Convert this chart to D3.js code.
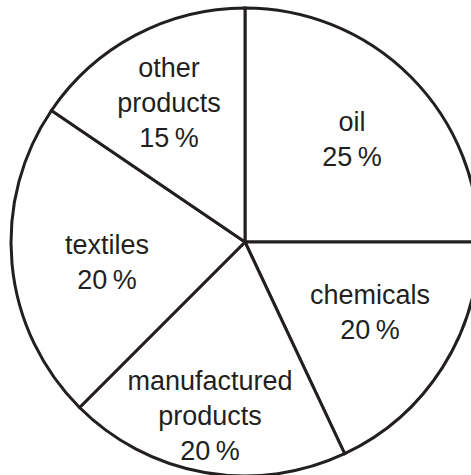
<!DOCTYPE html>
<html>
<head>
<meta charset="utf-8">
<script src="https://cdn.jsdelivr.net/npm/d3@7"></script>
<style>
  html, body { margin: 0; padding: 0; background: #fff; }
  svg { display: block; }
  text { font-family: "Liberation Sans", Arial, Helvetica, sans-serif; fill: #231f20; }
</style>
</head>
<body>
<svg id="chart" width="471" height="475"></svg>
<script>
// ---- data ----
const categories = ["oil", "chemicals", "manufactured products", "textiles", "other products"];
const labelPercents = [25, 20, 20, 20, 15];
// slice sizes as drawn in the picture (share of the circle, %)
const drawnShares = [25, 18, 19.5, 22, 15.5];

// ---- layout ----
const W = 471, H = 475;
const cx = 245, cy = 242, R = 234;
const fontSize = 27, lineGap = 35;
// label block anchors (center x, first baseline y) relative to pie center
const labelLayout = {
  "oil":                   { x: 107, y: -111, lines: ["oil"] },
  "chemicals":             { x: 125, y: 62,   lines: ["chemicals"] },
  "manufactured products": { x: -35, y: 148,  lines: ["manufactured", "products"] },
  "textiles":              { x: -138, y: 12,  lines: ["textiles"] },
  "other products":        { x: -76, y: -165, lines: ["other", "products"] }
};

const data = categories.map((c, i) => ({ cat: c, pct: labelPercents[i], share: drawnShares[i] }));

const svg = d3.select("#chart");
const g = svg.append("g").attr("transform", `translate(${cx},${cy})`);

const pie = d3.pie().sort(null).value(d => d.share).startAngle(0).endAngle(2 * Math.PI);
const arc = d3.arc().innerRadius(0).outerRadius(R);

g.selectAll("path.slice")
  .data(pie(data))
  .join("path")
  .attr("class", "slice")
  .attr("d", arc)
  .attr("fill", "#fff")
  .attr("stroke", "#231f20")
  .attr("stroke-width", 3)
  .attr("stroke-linejoin", "miter");

const labels = g.selectAll("g.label")
  .data(data)
  .join("g")
  .attr("class", "label")
  .attr("transform", d => `translate(${labelLayout[d.cat].x},${labelLayout[d.cat].y})`);

labels.each(function(d) {
  const lay = labelLayout[d.cat];
  const lines = lay.lines.concat([d.pct + "\u2009%"]);
  d3.select(this).selectAll("text")
    .data(lines)
    .join("text")
    .attr("x", 0)
    .attr("y", (t, i) => i * lineGap)
    .attr("text-anchor", "middle")
    .attr("font-size", fontSize)
    .text(t => t);
});
</script>
</body>
</html>
